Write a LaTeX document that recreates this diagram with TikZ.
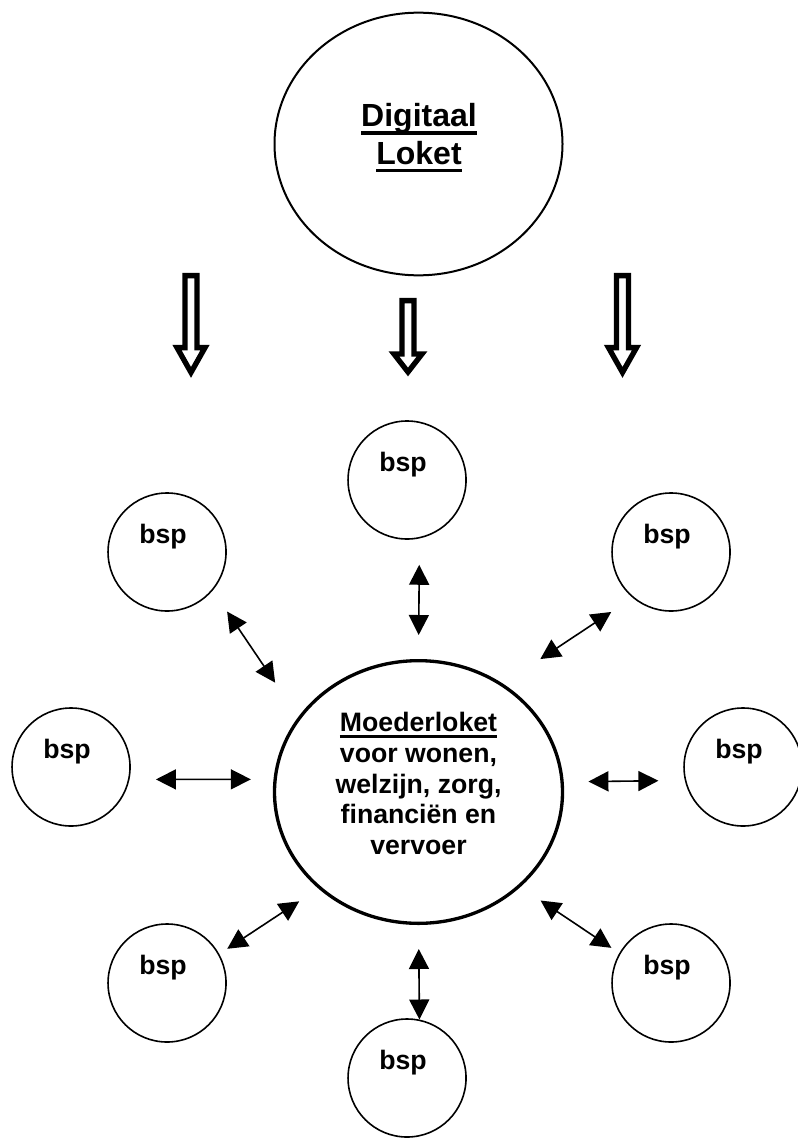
\documentclass[tikz,border=0pt]{standalone}
\usepackage{fontspec}
\setmainfont{Liberation Sans}
\usetikzlibrary{arrows.meta,positioning,shapes.geometric}

\newcommand{\onderstreept}[1]{\setbox0\hbox{#1}\rlap{\rule[-0.24em]{\wd0}{0.1em}}\box0}

\tikzset{
  loket/.style={ellipse, draw, minimum width=216pt, minimum height=197pt, inner sep=0pt},
  bsp/.style={circle, draw, line width=1.2pt, minimum size=88.5pt, inner sep=0pt,
    font=\fontsize{20}{23}\selectfont\bfseries, text height=14pt, text depth=27.5pt,
    execute at end node={\kern6pt}},
  wissel/.style={<->, >={Triangle[length=15pt,width=15pt]}, line width=1.2pt},
  holpijl/.style={draw, line width=4pt, line join=miter, fill=white}
}

\begin{document}
\begin{tikzpicture}[x=0.75pt, y=-0.75pt, on grid]
   \useasboundingbox (0,0) rectangle (798,1138);
   \node[loket, line width=2.5pt] (moeder) at (418.5,792) {};
   \node[align=center, font=\fontsize{20}{23}\selectfont\bfseries] (moedertekst) at (418.5,783.5)
      {\onderstreept{Moederloket}\\voor wonen,\\welzijn, zorg,\\financiën en\\vervoer};
   \node[loket, line width=1.5pt] (digitaal) [above=486pt of moeder] {};
   \node[align=center, font=\fontsize{24}{28}\selectfont\bfseries] (digitaaltekst) at (419,137.8)
      {\onderstreept{Digitaal}\\\onderstreept{Loket}};
   \node[bsp] (bspT)  [above left=234pt and 8.6pt of moeder] {bsp};
   \node[bsp] (bspTL) [above left=180pt and 188.6pt of moeder] {bsp};
   \node[bsp] (bspTR) [above right=180pt and 189.4pt of moeder] {bsp};
   \node[bsp] (bspL)  [above left=18.75pt and 260.6pt of moeder] {bsp};
   \node[bsp] (bspR)  [above right=18.75pt and 243.4pt of moeder] {bsp};
   \node[bsp] (bspBL) [below left=143.25pt and 188.6pt of moeder] {bsp};
   \node[bsp] (bspBR) [below right=143.25pt and 189.4pt of moeder] {bsp};
   \node[bsp] (bspB)  [below left=214.5pt and 8.6pt of moeder] {bsp};
    \path[wissel]
    (bspT.-78.5) edge[shorten <=19.7pt, shorten >=18pt] (moeder.90)
    (bspTL.-40.4) edge[shorten <=19.1pt, shorten >=31pt] (moeder.148.2)
    (bspTR.-130.1) edge[shorten <=19.2pt, shorten >=33.5pt] (moeder.52.1)
    (bspL.-12.5) edge[shorten <=19.8pt, shorten >=17pt] (moeder.175.3)
    (bspR.-167.5) edge[shorten <=19.8pt, shorten >=18.5pt] (moeder.4.7)
    (bspBL.29.8) edge[shorten <=7.1pt, shorten >=17.3pt] (moeder.-136.1)
    (bspBR.150.2) edge[shorten <=7.1pt, shorten >=18.2pt] (moeder.-43.4)
    (bspB.78.5) edge[shorten >=18pt] (moeder.-90);
   \draw[holpijl] (185,275.6) -- (185,347.6) -- (177,347.6) -- (191,372.4)
      -- (205,347.6) -- (197,347.6) -- (197,275.6) -- cycle;
   \draw[holpijl] (402,300.6) -- (402,354) -- (394,354) -- (408,372)
      -- (422,354) -- (414,354) -- (414,300.6) -- cycle;
   \draw[holpijl] (616.5,275.6) -- (616.5,347.6) -- (608.5,347.6) -- (622.5,372.4)
      -- (636.5,347.6) -- (628.5,347.6) -- (628.5,275.6) -- cycle;
\end{tikzpicture}
\end{document}
